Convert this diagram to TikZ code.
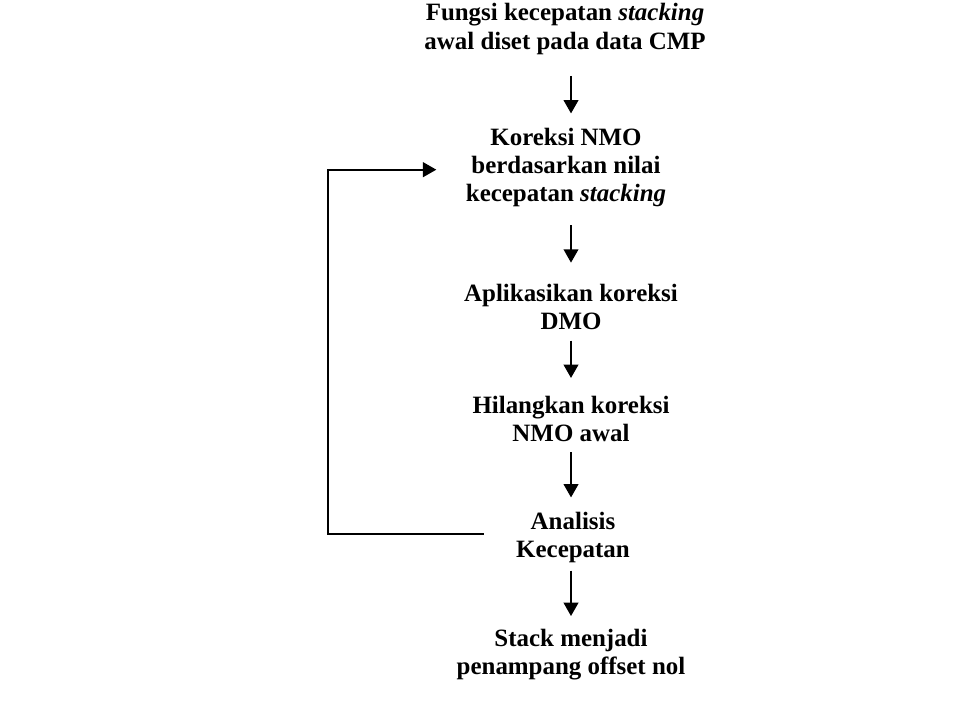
\documentclass[tikz,border=0pt]{standalone}
\usepackage{fontspec}
\setmainfont{Liberation Serif}
\usetikzlibrary{arrows.meta}
\tikzset{
  stepbox/.style={inner sep=0pt, align=center, font=\fontsize{18.7}{21}\selectfont\bfseries},
  arr/.style={line width=1.4pt, -{Triangle[width=11pt,length=10pt]}},
}
\begin{document}
\begin{tikzpicture}[x=0.75pt,y=-0.75pt]
  \useasboundingbox[fill=white] (0,0) rectangle (964,715);

  % process steps
  \node[stepbox] (n1) at (565,29)  {Fungsi kecepatan \textit{stacking}\\awal diset pada data CMP};
  \node[stepbox] (n2) at (566,167) {Koreksi NMO\\berdasarkan nilai\\kecepatan \textit{stacking}};
  \node[stepbox] (n3) at (571,307) {Aplikasikan koreksi\\DMO};
  \node[stepbox] (n4) at (571,419) {Hilangkan koreksi\\NMO awal};
  \node[stepbox] (n5) at (573,537) {Analisis\\Kecepatan};
  \node[stepbox] (n6) at (571,655) {Stack menjadi\\penampang offset nol};

  % downward flow
  \draw[arr] ([xshift=4.5pt,yshift=-16pt]n1.south) -- ([xshift=3.75pt,yshift=10.5pt]n2.north);
  \draw[arr] ([xshift=3.75pt,yshift=-14pt]n2.south) -- ([yshift=16pt]n3.north);
  \draw[arr] ([yshift=-8pt]n3.south) -- ([yshift=13.5pt]n4.north);
  \draw[arr] ([yshift=-7.5pt]n4.south) -- ([xshift=-1.5pt,yshift=10.5pt]n5.north);
  \draw[arr] ([xshift=-1.5pt,yshift=-6pt]n5.south) -- ([yshift=10pt]n6.north);

  % feedback loop back to the NMO correction
  \draw[arr] ([xshift=-24pt,yshift=2pt]n5.west) -- ++(-156,0) |- ([xshift=-22pt,yshift=-2pt]n2.west);
\end{tikzpicture}
\end{document}
